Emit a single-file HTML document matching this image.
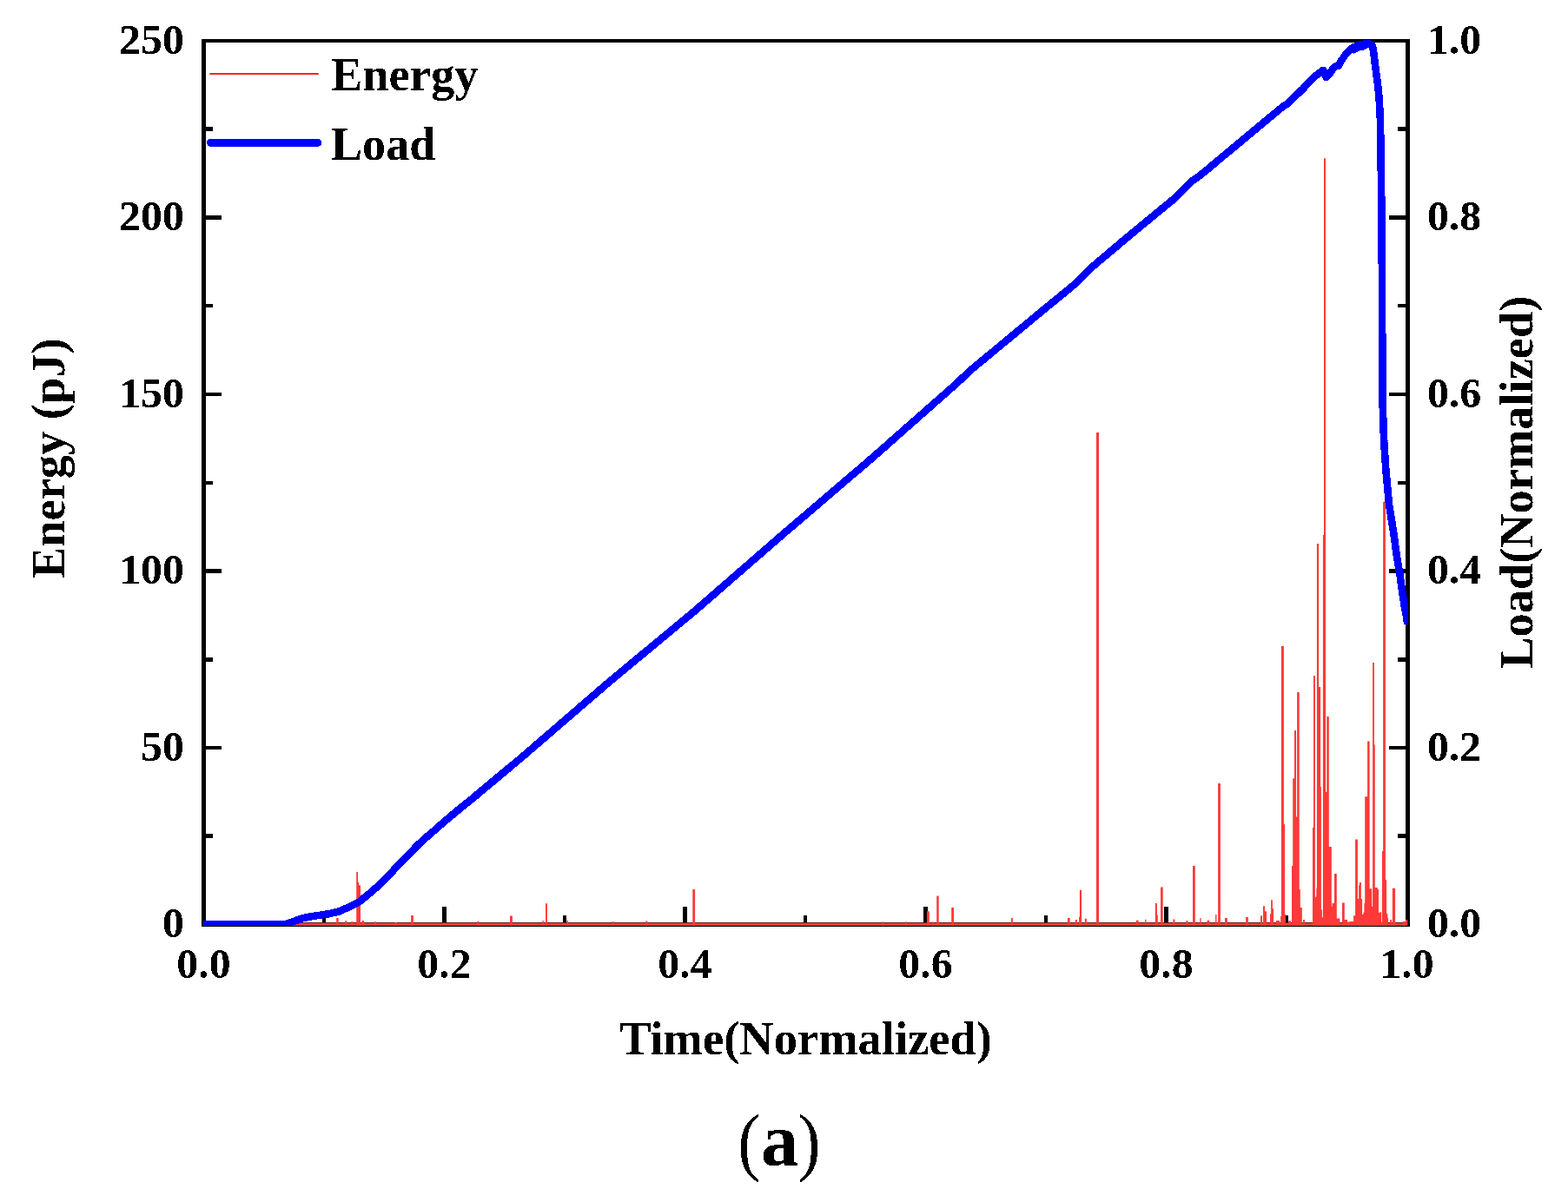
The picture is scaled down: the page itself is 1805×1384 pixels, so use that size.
<!DOCTYPE html>
<html><head><meta charset="utf-8"><title>Energy and Load vs Time</title>
<style>
html,body{margin:0;padding:0;background:#fff;}
body{width:1805px;height:1384px;overflow:hidden;}
svg{display:block;}
.t{font-family:"Liberation Serif","Times New Roman",serif;font-weight:bold;fill:#000;}
</style></head><body>
<svg width="1805" height="1384" viewBox="0 0 1805 1384">
<defs><filter id="cr" filterUnits="userSpaceOnUse" x="0" y="0" width="1805" height="1384"><feComponentTransfer><feFuncA type="discrete" tableValues="0 1"/></feComponentTransfer></filter></defs>
<rect width="1805" height="1384" fill="#fff"/>
<!-- frame -->
<g fill="#000">
<rect x="232" y="45" width="1391" height="4"/>
<rect x="232" y="1062" width="1391" height="5"/>
<rect x="232" y="45" width="5" height="1022"/>
<rect x="1618" y="45" width="5" height="1022"/>
<rect x="371" y="1054" width="4" height="8"/>
<rect x="509" y="1044" width="5" height="18"/>
<rect x="648" y="1054" width="4" height="8"/>
<rect x="786" y="1044" width="5" height="18"/>
<rect x="925" y="1054" width="4" height="8"/>
<rect x="1063" y="1044" width="5" height="18"/>
<rect x="1202" y="1054" width="4" height="8"/>
<rect x="1340" y="1044" width="5" height="18"/>
<rect x="1479" y="1054" width="4" height="8"/>
<rect x="237" y="960" width="8" height="5"/>
<rect x="1609" y="960" width="9" height="5"/>
<rect x="237" y="859" width="18" height="4"/>
<rect x="1599" y="859" width="19" height="4"/>
<rect x="237" y="757" width="8" height="5"/>
<rect x="1609" y="757" width="9" height="5"/>
<rect x="237" y="655" width="18" height="5"/>
<rect x="1599" y="655" width="19" height="5"/>
<rect x="237" y="554" width="8" height="4"/>
<rect x="1609" y="554" width="9" height="4"/>
<rect x="237" y="452" width="18" height="4"/>
<rect x="1599" y="452" width="19" height="4"/>
<rect x="237" y="350" width="8" height="4"/>
<rect x="1609" y="350" width="9" height="4"/>
<rect x="237" y="248" width="18" height="5"/>
<rect x="1599" y="248" width="19" height="5"/>
<rect x="237" y="146" width="8" height="5"/>
<rect x="1609" y="146" width="9" height="5"/>
</g>
<!-- energy -->
<rect x="237" y="1062.6" width="1381" height="3.2" fill="#ff3c3c"/>
<path d="M387.2 1065.8H389.7V1057H387.2ZM397.3 1065.8H399.3V1060.3H397.3ZM404.4 1065.8H406V1060.9H404.4ZM410.2 1065.8H412V1004.1H410.2ZM412 1065.8H413.2V1015.8H412ZM413.2 1065.8H415V1019.3H413.2ZM416.5 1065.8H419V1060.1H416.5ZM431 1065.8H433V1061.2H431ZM454.3 1065.8H456.8V1062H454.3ZM473.1 1065.8H475.9V1054.1H473.1ZM549.5 1065.8H551.5V1060.8H549.5ZM587 1065.8H589.9V1054.4H587ZM624.4 1065.8H625.8V1060.1H624.4ZM628 1065.8H629.9V1040.3H628ZM652.5 1065.8H654V1060.1H652.5ZM705 1065.8H706.5V1061H705ZM743.2 1065.8H745.4V1060.4H743.2ZM797.3 1065.8H800.1V1024H797.3ZM1015.5 1065.8H1017V1061.2H1015.5ZM1042 1065.8H1043.6V1061.2H1042ZM1066.9 1065.8H1069.8V1049.2H1066.9ZM1073.1 1065.8H1074.5V1061.2H1073.1ZM1078.2 1065.8H1080.7V1031.6H1078.2ZM1095.2 1065.8H1098V1045H1095.2ZM1163.9 1065.8H1165.8V1057.1H1163.9ZM1228.9 1065.8H1231.7V1057H1228.9ZM1237.8 1065.8H1239.9V1059.1H1237.8ZM1242 1065.8H1243V1055.7H1242ZM1242.9 1065.8H1245V1024.8H1242.9ZM1248.8 1065.8H1250.9V1057.7H1248.8ZM1262 1065.8H1265V497.9H1262ZM1307.8 1065.8H1310.6V1059.8H1307.8ZM1318.1 1065.8H1319.5V1058.8H1318.1ZM1329.8 1065.8H1331.9V1039.9H1329.8ZM1331.9 1065.8H1332.8V1053.6H1331.9ZM1336 1065.8H1338.7V1021.4H1336ZM1350.4 1065.8H1352.4V1058.4H1350.4ZM1365.5 1065.8H1367.5V1060H1365.5ZM1373 1065.8H1375.8V996.9H1373ZM1381.3 1065.8H1382.6V1057H1381.3ZM1389.5 1065.8H1392.3V1059.8H1389.5ZM1399.1 1065.8H1400.5V1052.9H1399.1ZM1402.1 1065.8H1404.9V902H1402.1ZM1410 1065.8H1412.8V1057H1410ZM1434.1 1065.8H1436.9V1056.1H1434.1ZM1451 1065.8H1453V1054.2H1451ZM1454 1065.8H1456V1043.2H1454ZM1456 1065.8H1458V1049.2H1456ZM1462 1065.8H1463.1V1052.2H1462ZM1463.1 1065.8H1464.9V1036.2H1463.1ZM1464.9 1065.8H1466V1046.2H1464.9ZM1469 1065.8H1473V1060H1469ZM1474.1 1065.8H1475V1055H1474.1ZM1474.9 1065.8H1477.9V744.1H1474.9ZM1477.9 1065.8H1479V949H1477.9ZM1479 1065.8H1480.1V1053H1479ZM1483.3 1065.8H1486V1060.2H1483.3ZM1487 1065.8H1488.2V997H1487ZM1488.2 1065.8H1490V896.3H1488.2ZM1490 1065.8H1492V840.9H1490ZM1492 1065.8H1493.1V940.6H1492ZM1493.1 1065.8H1495.7V797.1H1493.1ZM1495.7 1065.8H1496.8V1024H1495.7ZM1496.8 1065.8H1498.8V1045.1H1496.8ZM1500 1065.8H1502V1059H1500ZM1511 1065.8H1512V953H1511ZM1512 1065.8H1513.9V778H1512ZM1513.9 1065.8H1515.3V1032.8H1513.9ZM1515.3 1065.8H1515.9V1022.8H1515.3ZM1515.9 1065.8H1518.1V626H1515.9ZM1518.1 1065.8H1520.1V791H1518.1ZM1520.1 1065.8H1520.9V906.1H1520.1ZM1520.9 1065.8H1521.9V1047.5H1520.9ZM1521.9 1065.8H1522.9V1056.2H1521.9ZM1522.9 1065.8H1524V616H1522.9ZM1524 1065.8H1526V182.2H1524ZM1526 1065.8H1527.3V912.1H1526ZM1527.3 1065.8H1529.8V825H1527.3ZM1529.8 1065.8H1532.8V975.1H1529.8ZM1532.8 1065.8H1533.5V1043.9H1532.8ZM1533.5 1065.8H1536V1040H1533.5ZM1536 1065.8H1538.8V1006.1H1536ZM1538.8 1065.8H1542.4V1057.5H1538.8ZM1545 1065.8H1547.8V1039.5H1545ZM1547.8 1065.8H1551V1059H1547.8ZM1551 1065.8H1553.7V1061.4H1551ZM1553.7 1065.8H1558.1V1061H1553.7ZM1558.1 1065.8H1560.1V1054.2H1558.1ZM1560.1 1065.8H1562.9V966.4H1560.1ZM1562.9 1065.8H1564.1V1035.1H1562.9ZM1564.1 1065.8H1564.9V1019.2H1564.1ZM1564.9 1065.8H1566.9V1016.1H1564.9ZM1566.9 1065.8H1568.1V1035.1H1566.9ZM1568.1 1065.8H1569.3V1053H1568.1ZM1569.3 1065.8H1570.4V1050.7H1569.3ZM1570.4 1065.8H1571.2V1039.9H1570.4ZM1571.2 1065.8H1574.1V917.2H1571.2ZM1574.1 1065.8H1576.6V853.4H1574.1ZM1576.6 1065.8H1579.2V1023.2H1576.6ZM1579.2 1065.8H1580.1V1043.9H1579.2ZM1580.1 1065.8H1581.9V763.1H1580.1ZM1581.9 1065.8H1582.8V857.4H1581.9ZM1582.8 1065.8H1585.8V1022H1582.8ZM1585.8 1065.8H1587V1024H1585.8ZM1587 1065.8H1588.2V1051H1587ZM1588.2 1065.8H1590.2V1050.3H1588.2ZM1590.2 1065.8H1591V1061.8H1590.2ZM1591 1065.8H1592.1V979.9H1591ZM1592.1 1065.8H1594.9V578H1592.1ZM1594.9 1065.8H1596.1V1012.9H1594.9ZM1596.1 1065.8H1597.3V1051.8H1596.1ZM1597.3 1065.8H1598.1V1057H1597.3ZM1600.1 1065.8H1602.1V1059H1600.1ZM1602.9 1065.8H1606.1V1022.8H1602.9ZM1614.8 1065.8H1618V1061H1614.8ZM1618 1065.8H1620.4V1059H1618Z" fill="#ff3838"/>
<line x1="241.3" y1="85" x2="366.8" y2="85" stroke="#ff2424" stroke-width="2"/>
<!-- load -->
<g filter="url(#cr)">
<clipPath id="pc"><rect x="234" y="44" width="1387" height="1022.3"/></clipPath>
<path clip-path="url(#pc)" d="M230 1064.5 L328 1064.5 L334.9 1062.1 L347.4 1057.5 L359.9 1054.9 L376.5 1052.6 L390 1049.5 L401.6 1044.3 L413.1 1038.8 L424.7 1029.2 L436.2 1019.3 L447.8 1008 L460 994 L470 984.3 L480 974 L490 964.6 L499 957 L511.5 946.1 L527.4 932.6 L543.3 919.9 L557.6 907.9 L600 872.5 L700 786.2 L800 703.2 L900 616.2 L1000 530.8 L1100 442.6 L1118.2 425.5 L1200 357.8 L1237.8 326.7 L1256 308.5 L1299 272.1 L1350 230.1 L1360 220.8 L1365 215.8 L1370 210 L1380 203 L1390 195 L1400 186.5 L1443 150.7 L1478.2 121.5 L1482 119.5 L1500 102.1 L1507.2 94.6 L1514.5 87.3 L1523.3 80.7 L1526.8 89 L1530.5 85 L1534.5 79 L1537 76.5 L1540.5 76 L1543.4 70.6 L1549 62.6 L1554 57.2 L1558.3 54.3 L1562 52.5 L1566 51.3 L1572 50.5 L1576.5 50.5 L1579.3 52 L1580.8 57 L1581.6 63 L1582.4 70 L1583.4 78 L1584.4 86 L1586.1 97.8 L1587.5 112.3 L1588.4 126.7 L1589 139.7 L1590.5 247 L1591.3 400 L1591.6 464 L1593.1 507.4 L1595.5 543.2 L1597.1 560 L1598.9 580 L1602.1 600 L1605.2 620 L1607.8 640 L1611.2 660 L1614 680 L1617 700 L1619 710 L1620.3 718.5 M1556 58.5 L1559 56.8 L1563 54.6 L1568 53.8 L1570.5 52.3 L1572.5 51" fill="none" stroke="#0000ff" stroke-width="8.6" stroke-linejoin="round" stroke-linecap="butt"/>
<line x1="242.5" y1="164.4" x2="365.7" y2="164.4" stroke="#0000ff" stroke-width="9" stroke-linecap="round"/>
</g>
<g filter="url(#cr)">
<g class="t" font-size="55.3">
<text transform="translate(380.9 103.9) scale(0.986 1)">Energy</text>
<text transform="translate(380.9 184) scale(0.98 1)">Load</text>
</g>
<!-- tick labels -->
<g class="t" font-size="47.7">
<text x="0" y="1079.1" text-anchor="end" transform="translate(211.9 0) scale(1.045 1)">0</text>
<text x="0" y="875.6" text-anchor="end" transform="translate(211.9 0) scale(1.045 1)">50</text>
<text x="0" y="672.1" text-anchor="end" transform="translate(211.9 0) scale(1.045 1)">100</text>
<text x="0" y="468.6" text-anchor="end" transform="translate(211.9 0) scale(1.045 1)">150</text>
<text x="0" y="265.1" text-anchor="end" transform="translate(211.9 0) scale(1.045 1)">200</text>
<text x="0" y="61.6" text-anchor="end" transform="translate(211.9 0) scale(1.045 1)">250</text>
<text x="0" y="1079.1" transform="translate(1642.9 0) scale(1.045 1)">0.0</text>
<text x="0" y="875.6" transform="translate(1642.9 0) scale(1.045 1)">0.2</text>
<text x="0" y="672.1" transform="translate(1642.9 0) scale(1.045 1)">0.4</text>
<text x="0" y="468.6" transform="translate(1642.9 0) scale(1.045 1)">0.6</text>
<text x="0" y="265.1" transform="translate(1642.9 0) scale(1.045 1)">0.8</text>
<text x="0" y="61.6" transform="translate(1642.9 0) scale(1.045 1)">1.0</text>
<text x="0" y="1126.2" text-anchor="middle" transform="translate(234.5 0) scale(1.045 1)">0.0</text>
<text x="0" y="1126.2" text-anchor="middle" transform="translate(511.5 0) scale(1.045 1)">0.2</text>
<text x="0" y="1126.2" text-anchor="middle" transform="translate(788.5 0) scale(1.045 1)">0.4</text>
<text x="0" y="1126.2" text-anchor="middle" transform="translate(1065.5 0) scale(1.045 1)">0.6</text>
<text x="0" y="1126.2" text-anchor="middle" transform="translate(1342.5 0) scale(1.045 1)">0.8</text>
<text x="0" y="1126.2" text-anchor="middle" transform="translate(1619.5 0) scale(1.045 1)">1.0</text>
</g>
<!-- axis titles -->
<g class="t" font-size="55.3">
<text transform="translate(713.05 1214.06) scale(0.986 1)">Time(Normalized)</text>
<text transform="translate(74.06 665.9) rotate(-90) scale(0.984 1)">Energy (pJ)</text>
<text transform="translate(1764.1 769.7) rotate(-90) scale(0.984 1)">Load(Normalized)</text>
</g>
<!-- panel label -->
<text transform="translate(849.3 1342.5) scale(0.91 1)" font-size="86" style="font-family:'Liberation Serif',serif;">(</text>
<text x="875.95" y="1342" font-size="86" class="t">a</text>
<text transform="translate(918.6 1342.5) scale(0.91 1)" font-size="86" style="font-family:'Liberation Serif',serif;">)</text>
</g>
</svg>
</body></html>
